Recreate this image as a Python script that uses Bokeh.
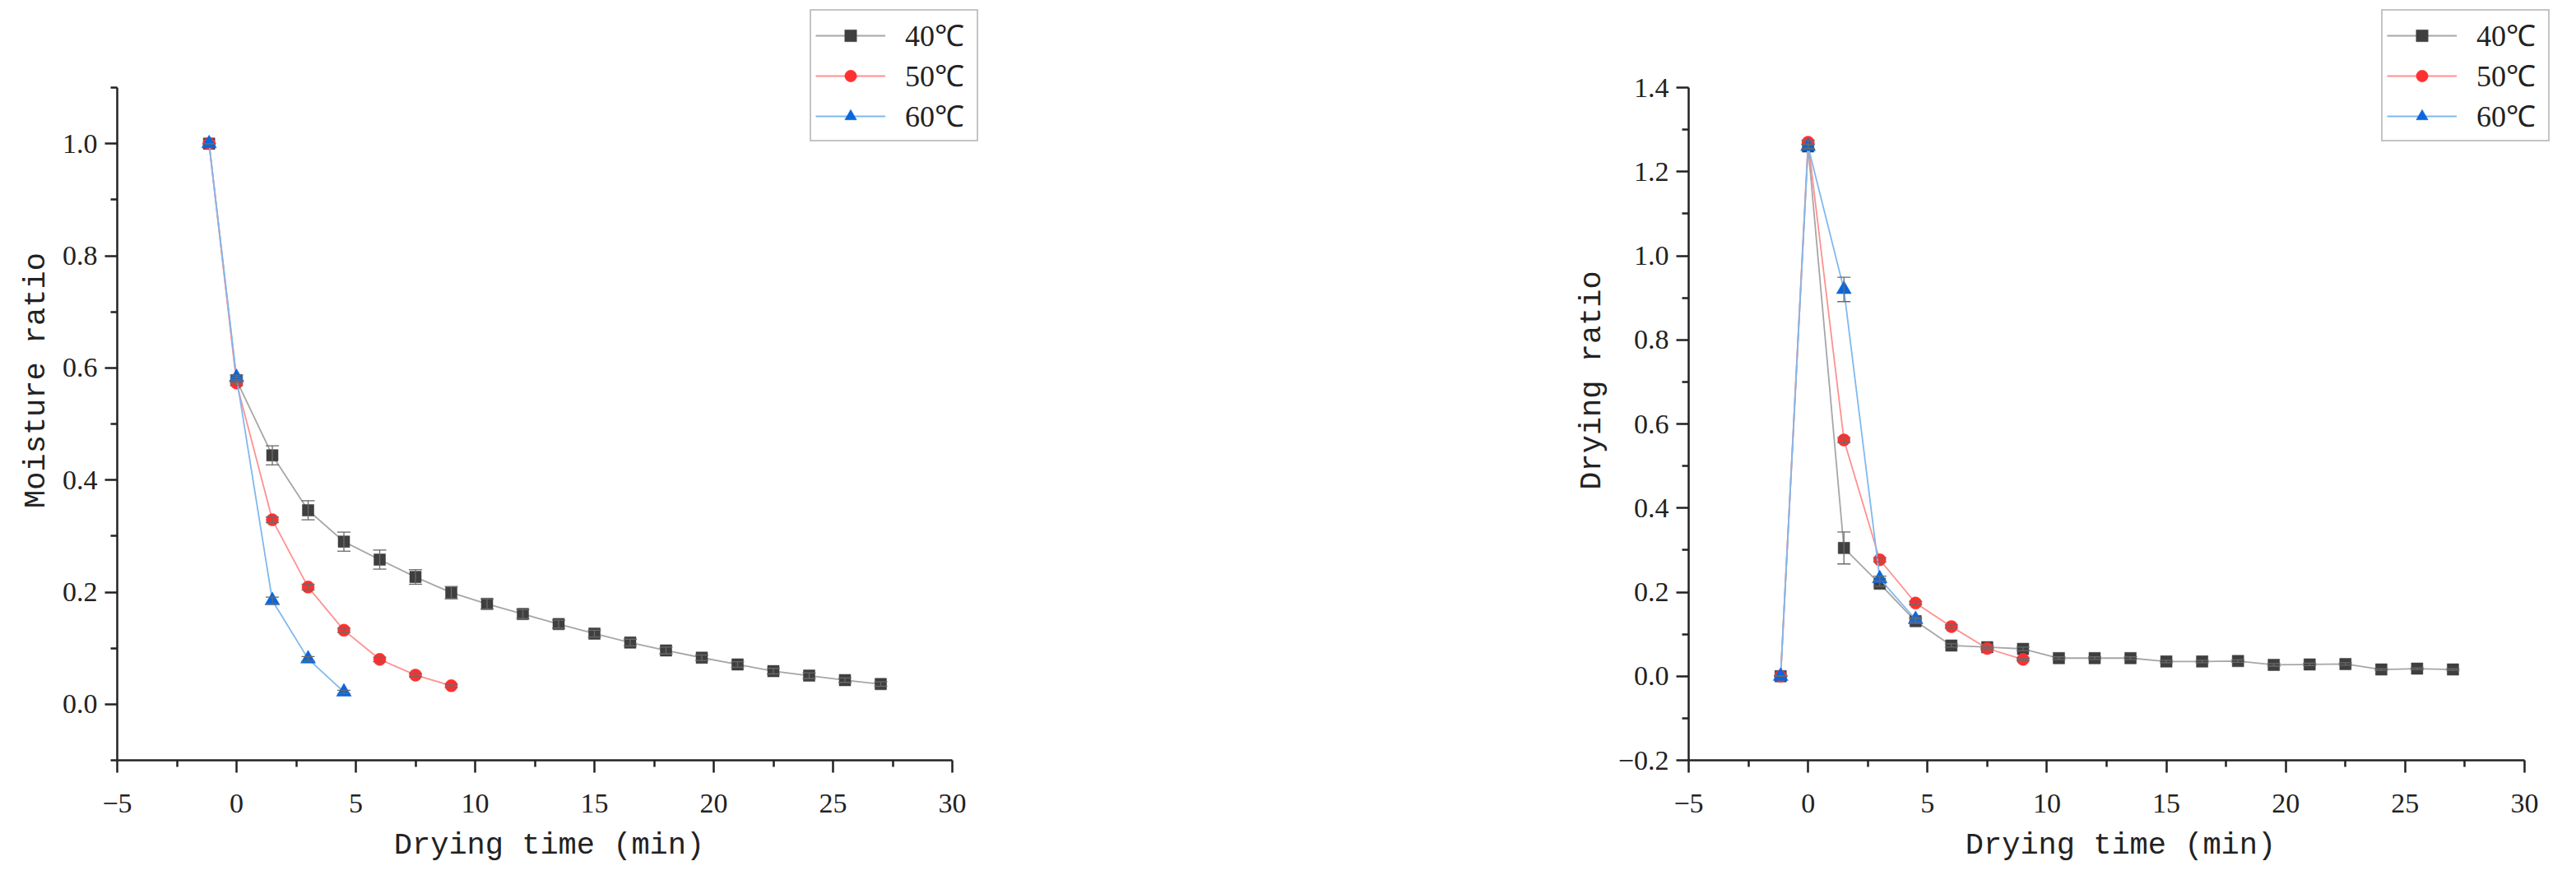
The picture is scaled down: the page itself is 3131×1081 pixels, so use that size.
from bokeh.plotting import figure
from bokeh.layouts import row
from bokeh.models import (Range1d, FixedTicker, Legend, LegendItem, Whisker,
                          TeeHead, ColumnDataSource)
from bokeh.embed import file_html
from bokeh.resources import INLINE

# ---------------- data ----------------
time_min = [-1.15, 0, 1.5, 3, 4.5, 6, 7.5, 9, 10.5, 12, 13.5, 15, 16.5, 18,
            19.5, 21, 22.5, 24, 25.5, 27]
series_names = ["40℃", "50℃", "60℃"]

# Moisture ratio
mr_40 = [1.0, 0.578, 0.444, 0.346, 0.290, 0.258, 0.227, 0.199, 0.179, 0.161,
         0.143, 0.126, 0.110, 0.096, 0.083, 0.071, 0.059, 0.051, 0.043, 0.036]
mr_40_err = [0.0, 0.005, 0.017, 0.017, 0.017, 0.017, 0.013, 0.011, 0.009, 0.008,
             0.007, 0.006, 0.006, 0.006, 0.005, 0.005, 0.005, 0.005, 0.004, 0.004]
mr_50 = [1.0, 0.573, 0.329, 0.209, 0.132, 0.080, 0.052, 0.033]
mr_50_err = [0.0, 0.004, 0.005, 0.005, 0.004, 0.004, 0.003, 0.003]
mr_60 = [1.0, 0.583, 0.185, 0.081, 0.022]
mr_60_err = [0.0, 0.004, 0.006, 0.004, 0.003]

# Drying ratio
dr_40 = [0.0, 1.26, 0.305, 0.220, 0.131, 0.073, 0.069, 0.065, 0.043, 0.043,
         0.043, 0.035, 0.035, 0.036, 0.027, 0.028, 0.029, 0.016, 0.018, 0.016]
dr_40_err = [0.0, 0.005, 0.038, 0.006, 0.005, 0.004, 0.004, 0.004, 0.003, 0.003,
             0.003, 0.003, 0.003, 0.003, 0.003, 0.003, 0.003, 0.002, 0.002, 0.002]
dr_50 = [0.0, 1.27, 0.562, 0.277, 0.174, 0.118, 0.066, 0.040]
dr_50_err = [0.0, 0.005, 0.006, 0.005, 0.004, 0.004, 0.003, 0.003]
dr_60 = [0.0, 1.26, 0.92, 0.232, 0.135]
dr_60_err = [0.0, 0.005, 0.029, 0.006, 0.005]

x_limits = (-5, 30)
x_ticks = [-5, 0, 5, 10, 15, 20, 25, 30]
x_minor = [-2.5, 2.5, 7.5, 12.5, 17.5, 22.5, 27.5]
mr_limits = (-0.1, 1.1)
mr_ticks = [0.0, 0.2, 0.4, 0.6, 0.8, 1.0]
mr_minor = [-0.1, 0.1, 0.3, 0.5, 0.7, 0.9, 1.1]
dr_limits = (-0.2, 1.4)
dr_ticks = [-0.2, 0.0, 0.2, 0.4, 0.6, 0.8, 1.0, 1.2, 1.4]
dr_minor = [-0.1, 0.1, 0.3, 0.5, 0.7, 0.9, 1.1, 1.3]

# ---------------- styles ----------------
MARKER_COLORS = ["#3f3f3f", "#ff3030", "#0a66dc"]
LINE_COLORS = ["#a6a6a6", "#ff9090", "#80b8ee"]
MARKERS = ["square", "circle", "triangle"]
SIZES = [14, 15, 18]
AXIS_FONT = "Liberation Mono"
TICK_FONT = "Liberation Serif"

AXES_H = 818       # pixel length of drawn y axis
FRAME_W = 1050     # frame extends to the right to hold the legend
FRAME_H = 924      # frame extends upward to hold the legend


def make_panel(ylabel, ylim, yt, ym, series, left_border, right_border, axes_w):
    x0, x1 = x_limits
    y0, y1 = ylim
    x_hi = x0 + (x1 - x0) * FRAME_W / axes_w
    y_hi = y0 + (y1 - y0) * FRAME_H / AXES_H
    p = figure(frame_width=FRAME_W, frame_height=FRAME_H,
               min_border_left=left_border, min_border_right=right_border,
               min_border_top=0, min_border_bottom=141,
               x_range=Range1d(x0, x_hi), y_range=Range1d(y0, y_hi),
               output_backend="svg", toolbar_location=None)
    p.xgrid.visible = False
    p.ygrid.visible = False
    p.outline_line_color = None
    p.background_fill_color = "white"
    p.border_fill_color = "white"

    p.xaxis[0].bounds = (x0, x1)
    p.yaxis[0].bounds = (y0, y1)
    for ax, ticks, minor in ((p.xaxis[0], x_ticks, x_minor), (p.yaxis[0], yt, ym)):
        ax.ticker = FixedTicker(ticks=ticks, minor_ticks=minor)
        ax.axis_line_width = 2.5
        ax.axis_line_color = "#222222"
        ax.major_tick_line_width = 2.5
        ax.minor_tick_line_width = 2.5
        ax.major_tick_line_color = "#222222"
        ax.minor_tick_line_color = "#222222"
        ax.major_tick_out = 15
        ax.major_tick_in = 0
        ax.minor_tick_out = 8
        ax.minor_tick_in = 0
        ax.major_label_text_font = TICK_FONT
        ax.major_label_text_font_size = "34px"
        ax.major_label_text_color = "#222222"
        ax.axis_label_text_font = AXIS_FONT
        ax.axis_label_text_font_size = "37px"
        ax.axis_label_text_font_style = "normal"
        ax.axis_label_text_color = "#222222"

    p.xaxis.axis_label = "Drying time (min)"
    p.xaxis.major_label_standoff = 26
    p.xaxis.axis_label_standoff = 16
    p.yaxis.axis_label = ylabel
    p.yaxis.major_label_standoff = 9
    p.yaxis.axis_label_standoff = 8

    p.xaxis.major_label_overrides = {-5: "\u22125"}
    overrides = {}
    for t in yt:
        if t < 0:
            overrides[t] = "\u2212" + "%.1f" % abs(t)
        else:
            overrides[t] = "%.1f" % t
    p.yaxis.major_label_overrides = overrides

    items = []
    for i, (yvals, errs) in enumerate(series):
        xs = time_min[:len(yvals)]
        src = ColumnDataSource(dict(
            x=xs, y=yvals,
            lower=[v - e for v, e in zip(yvals, errs)],
            upper=[v + e for v, e in zip(yvals, errs)]))
        ln = p.line("x", "y", source=src, line_color=LINE_COLORS[i], line_width=1.8)
        wk = Whisker(source=src, base="x", lower="lower", upper="upper",
                     line_color="#6a6a6a", line_width=1.3,
                     upper_head=TeeHead(size=16, line_color="#6a6a6a", line_width=1.3),
                     lower_head=TeeHead(size=16, line_color="#6a6a6a", line_width=1.3),
                     level="glyph")
        p.add_layout(wk)
        sc = p.scatter("x", "y", source=src, marker=MARKERS[i], size=SIZES[i],
                       fill_color=MARKER_COLORS[i], line_color=MARKER_COLORS[i],
                       line_width=0.5)
        items.append(LegendItem(label=series_names[i], renderers=[ln, sc]))

    legend = Legend(items=items, location=(842, 752),
                    glyph_width=85, glyph_height=36, label_height=36,
                    label_width=82,
                    label_standoff=24, padding=5, spacing=0, margin=0,
                    label_text_font=TICK_FONT, label_text_font_size="36px",
                    label_text_color="#222222",
                    border_line_color="#8a8a8a", border_line_width=2,
                    background_fill_color="white", background_fill_alpha=1.0)
    p.add_layout(legend, "center")
    return p


p1 = make_panel("Moisture ratio", mr_limits, mr_ticks, mr_minor,
                [(mr_40, mr_40_err), (mr_50, mr_50_err), (mr_60, mr_60_err)],
                142, 108, 1015)
p2 = make_panel("Drying ratio", dr_limits, dr_ticks, dr_minor,
                [(dr_40, dr_40_err), (dr_50, dr_50_err), (dr_60, dr_60_err)],
                752, 10, 1016)

layout = row(p1, p2, spacing=0)
open("out.html", "w").write(file_html(layout, INLINE))
